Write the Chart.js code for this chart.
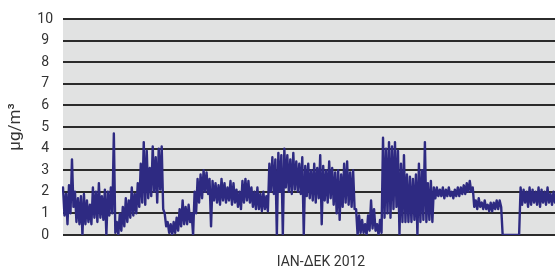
<!DOCTYPE html>
<html>
<head>
<meta charset="utf-8">
<script src="https://cdn.jsdelivr.net/npm/chart.js@4/dist/chart.umd.min.js"></script>
<style>
html,body{margin:0;padding:0;background:#fff;}
#wrap{position:relative;width:555px;height:270px;}
</style>
</head>
<body>
<div id="wrap"><canvas id="c" width="555" height="270"></canvas></div>
<script>
// Hourly concentration, Jan–Dec 2012, read as alternating high/low values across the year
const concentration = [
2.2,0.9, 1.9,0.5, 2.3,1.0, 3.5,1.3, 2.0,0.6, 1.7,0.5, 1.8,0.0, 1.9,0.5, 1.6,0.6, 1.4,0.5,
2.2,0.8, 2.0,0.6, 2.4,0.8, 1.8,0.7, 2.1,0.0, 2.0,0.9, 2.2,1.0, 4.7,0.1, 0.6,0.0, 1.0,0.2,
1.3,0.4, 1.7,0.6, 1.6,0.8, 2.2,0.9, 1.9,1.0, 2.4,1.3, 3.3,1.5, 4.3,1.4, 3.9,1.7, 3.1,1.8,
4.1,2.0, 3.6,1.5, 4.0,2.1, 4.1,1.2, 1.0,0.4, 0.6,0.1, 0.5,0.0, 0.6,0.1, 0.8,0.2, 1.2,0.4,
1.6,0.5, 1.3,0.5, 1.4,0.6, 1.0,0.0, 2.0,1.0, 2.6,1.5, 2.8,1.7, 3.0,2.0, 2.9,1.9, 2.6,0.4,
2.5,1.6, 2.4,1.5, 2.3,1.4, 2.6,1.6, 2.4,1.5, 2.2,1.6, 2.5,1.4, 2.4,1.5, 2.1,1.3, 2.0,1.2,
2.5,1.5, 2.6,1.6, 2.5,1.5, 2.2,1.3, 2.0,1.2, 2.2,1.2, 1.9,1.1, 2.0,1.2, 1.8,1.1, 3.3,2.0,
3.6,1.9, 3.5,0.0, 3.8,2.0, 3.7,0.0, 4.0,2.2, 3.7,2.0, 3.5,1.9, 3.8,2.1, 3.4,2.0, 3.3,1.9,
3.6,0.0, 3.2,1.8, 3.3,1.7, 3.0,1.6, 3.3,1.5, 3.1,1.7, 3.7,0.5, 3.2,1.6, 3.0,1.5, 3.4,1.7,
3.1,1.4, 2.9,1.0, 3.0,0.7, 2.8,1.3, 3.3,1.5, 3.4,1.4, 2.9,1.3, 3.0,1.2, 1.2,0.0, 0.9,0.1,
0.7,0.1, 0.5,0.0, 0.9,0.2, 1.6,0.3, 1.2,0.2, 0.5,0.0, 0.7,0.1, 4.5,0.8, 4.0,1.0, 4.3,0.8,
4.1,1.2, 4.3,1.3, 3.9,0.0, 3.3,0.6, 3.7,0.6, 2.8,0.6, 2.7,0.6, 2.6,0.7, 2.8,0.0, 3.3,0.6,
3.0,0.7, 4.3,0.6, 2.4,0.7, 2.5,0.6, 2.2,1.7, 2.2,1.8, 2.1,1.8, 2.2,1.7, 2.1,1.8, 2.2,1.8,
2.0,1.7, 2.1,1.8, 2.2,1.8, 2.2,1.9, 2.3,1.9, 2.4,2.0, 2.5,2.0, 2.2,1.3, 1.6,1.2, 1.7,1.3,
1.5,1.2, 1.6,1.2, 1.4,1.1, 1.5,1.1, 1.5,1.2, 1.6,1.2, 1.6,1.3, 0.0,0.0, 0.0,0.0, 0.0,0.0,
0.0,0.0, 0.0,0.0, 0.0,0.0, 2.2,1.4, 2.1,1.5, 2.0,1.3, 2.2,1.4, 2.1,1.5, 2.0,1.4, 2.2,1.3,
2.1,1.5, 2.0,1.4, 2.2,1.5, 1.9,1.4, 2.0,1.5
];
const yTickValues = [0,1,2,3,4,5,6,7,8,9,10];
const yTitle = 'μg/m³';
const xTitle = 'ΙΑΝ-ΔΕΚ 2012';

const labels = concentration.map(() => '');

const bgPlugin = {
  id: 'plotBg',
  beforeDraw(chart) {
    const {ctx, chartArea: a} = chart;
    ctx.save();
    ctx.fillStyle = '#E1E2E2';
    ctx.fillRect(a.left, a.top, a.right - a.left, a.bottom - a.top);
    ctx.restore();
  }
};
const xTitlePlugin = {
  id: 'xTitle',
  afterDraw(chart) {
    const {ctx} = chart;
    ctx.save();
    ctx.font = '14px Roboto, "Liberation Sans", sans-serif';
    ctx.fillStyle = '#333';
    ctx.textAlign = 'center';
    ctx.textBaseline = 'middle';
    ctx.fillText(xTitle, 321, 262);
    ctx.restore();
  }
};

new Chart(document.getElementById('c'), {
  type: 'line',
  data: {
    labels: labels,
    datasets: [{
      data: concentration,
      borderColor: '#2E2A82',
      borderWidth: 2.4,
      borderJoinStyle: 'round',
      borderCapStyle: 'round',
      pointRadius: 0,
      tension: 0,
      fill: false
    }]
  },
  options: {
    responsive: false,
    animation: false,
    events: [],
    layout: {padding: {top: 19, bottom: 35, left: 0, right: 0}},
    plugins: {legend: {display: false}, tooltip: {enabled: false}},
    scales: {
      x: {display: false, offset: false},
      y: {
        min: 0, max: 10,
        afterFit(s) { s.width = 63; },
        afterBuildTicks(s) { s.ticks = yTickValues.map(v => ({value: v})); },
        border: {display: false},
        grid: {color: '#2b2b2b', lineWidth: 2, drawTicks: false},
        ticks: {
          padding: 10,
          crossAlign: 'center',
          color: '#333',
          font: {family: 'Roboto, "Liberation Sans", sans-serif', size: 14}
        },
        title: {
          display: true,
          text: yTitle,
          color: '#333',
          font: {family: 'Roboto, "Liberation Sans", sans-serif', size: 17},
          padding: {top: 6, bottom: 0}
        }
      }
    }
  },
  plugins: [bgPlugin, xTitlePlugin]
});
</script>
</body>
</html>
